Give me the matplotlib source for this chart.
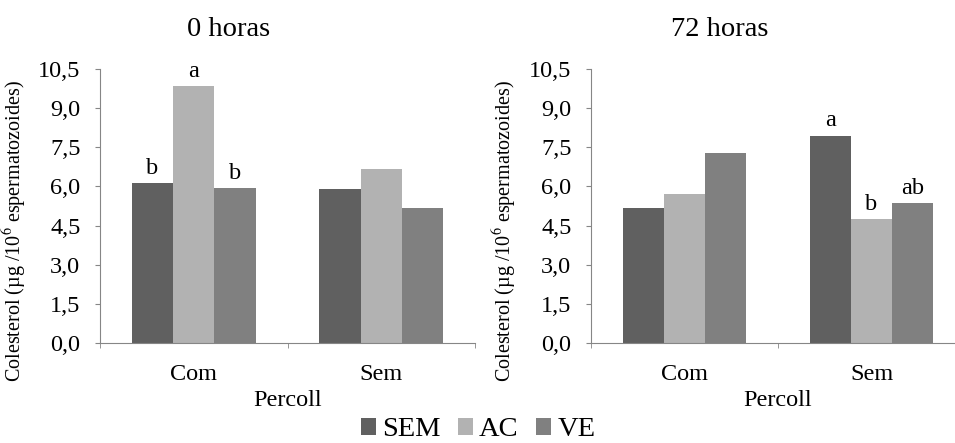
import matplotlib.pyplot as plt
import numpy as np
from matplotlib.patches import Patch
from matplotlib.ticker import FuncFormatter

plt.rcParams['font.family'] = ['Liberation Serif', 'DejaVu Serif']
plt.rcParams['mathtext.fontset'] = 'stix'

categories = ['Com', 'Sem']
series = ['SEM', 'AC', 'VE']
colors = ['#606060', '#b2b2b2', '#808080']

h0_values = {'SEM': [6.14, 5.89], 'AC': [9.86, 6.66], 'VE': [5.93, 5.19]}
h72_values = {'SEM': [5.17, 7.95], 'AC': [5.72, 4.75], 'VE': [7.27, 5.36]}

# letters per series and category ('' = none)
h0_letters = {'SEM': ['b', ''], 'AC': ['a', ''], 'VE': ['b', '']}
h72_letters = {'SEM': ['', 'a'], 'AC': ['', 'b'], 'VE': ['', 'ab']}

yticks = np.arange(0, 10.6, 1.5)
ylab = 'Colesterol (µg /10$^{6}$ espermatozoides)'

fig = plt.figure(figsize=(9.55, 4.43), dpi=100)
ax1 = fig.add_axes([100 / 955, 1 - 343 / 443, 375 / 955, 274 / 443])
ax2 = fig.add_axes([591 / 955, 1 - 343 / 443, 374 / 955, 274 / 443])

bar_w = 0.22
x = np.arange(len(categories))


def draw(ax, values, letters):
    for i, s in enumerate(series):
        pos = x + (i - 1) * bar_w
        ax.bar(pos, values[s], width=bar_w, color=colors[i], edgecolor='none')
        for p, v, t in zip(pos, values[s], letters[s]):
            if t:
                ax.annotate(t, (p, v), xytext=(0, 3), textcoords='offset points',
                            ha='center', va='bottom', fontsize=17.5)
    ax.set_xlim(-0.5, 1.5)
    ax.set_ylim(0, 10.5)
    ax.set_yticks(yticks)
    ax.yaxis.set_major_formatter(FuncFormatter(lambda v, _: f'{v:.1f}'.replace('.', ',')))
    ax.set_xticks(x)
    ax.set_xticklabels(categories)
    ax.set_xticks([-0.5, 0.5, 1.5], minor=True)
    ax.tick_params(axis='x', which='major', length=0, pad=15, labelsize=17.5)
    ax.tick_params(axis='x', which='minor', length=3.6, color='#868686', direction='out')
    ax.tick_params(axis='y', length=3.6, color='#868686', labelsize=17.5, pad=10.5)
    for sp in ['top', 'right']:
        ax.spines[sp].set_visible(False)
    for sp in ['left', 'bottom']:
        ax.spines[sp].set_color('#868686')
    ax.set_xlabel('Percoll', fontsize=17.5)
    ax.xaxis.set_label_coords(0.5, -0.17)


draw(ax1, h0_values, h0_letters)
draw(ax2, h72_values, h72_letters)

fig.text(29 / 955, 1 - 231 / 443, ylab, rotation=90, ha='right', va='center', fontsize=14.5)
fig.text(519 / 955, 1 - 231 / 443, ylab, rotation=90, ha='right', va='center', fontsize=14.5)

fig.text(229 / 955, 1 - 29 / 443, '0 horas', ha='center', va='center', fontsize=20.5)
fig.text(720 / 955, 1 - 29 / 443, '72 horas', ha='center', va='center', fontsize=20.5)

handles = [Patch(facecolor=c, edgecolor='none') for c in colors]
fig.legend(handles, series, loc='center', bbox_to_anchor=(478 / 955, 1 - 430 / 443), ncol=3,
           frameon=False, fontsize=20.5, handlelength=0.55, handleheight=0.55,
           handletextpad=0.2, columnspacing=0.6, borderpad=0, borderaxespad=0)

fig.savefig('out.png', dpi=100)
